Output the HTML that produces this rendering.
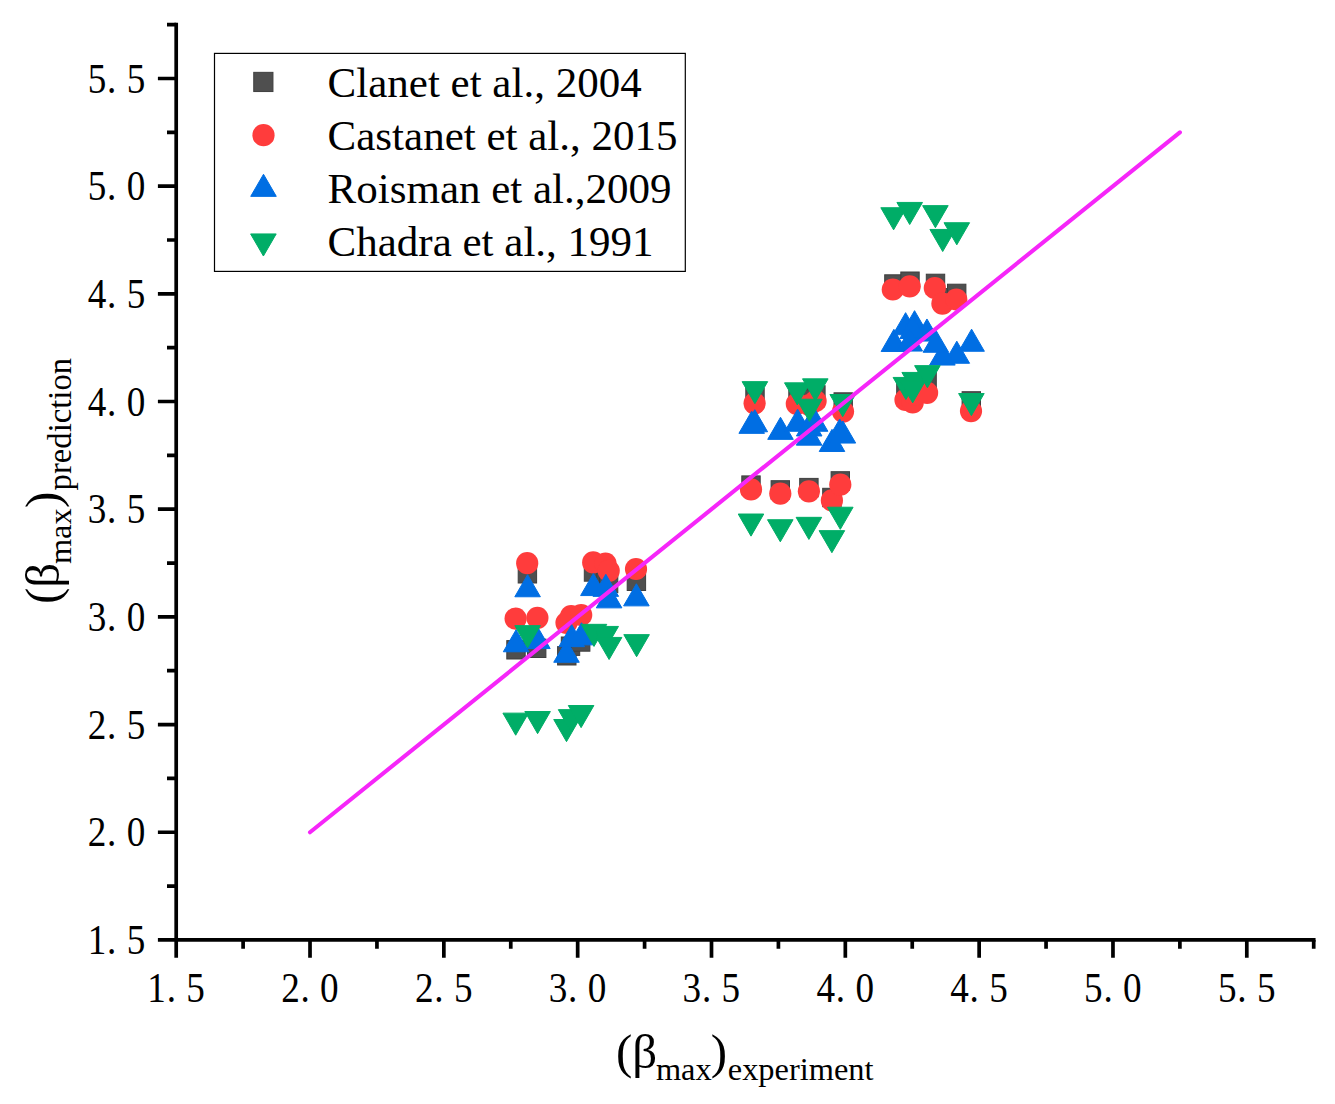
<!DOCTYPE html>
<html><head><meta charset="utf-8"><title>chart</title>
<style>
html,body{margin:0;padding:0;background:#fff;}
svg{display:block;}
text{font-family:"Liberation Serif",serif;fill:#000;}
.tk{font-size:41.3px;}
.lg{font-size:43px;}
.m{font-size:49px;}
.s{font-size:32.4px;}
.s2{font-size:32.7px;}
</style></head><body>
<svg width="1335" height="1104" viewBox="0 0 1335 1104">
<rect width="1335" height="1104" fill="#fff"/>
<g stroke="#000" stroke-width="3.7" fill="none">
<path d="M176.20 22.81V957.70"/>
<path d="M157.90 939.90H1315.56"/>
<path d="M243.11 939.90v8.9M176.20 886.06h-9.2M310.02 939.90v17.8M176.20 832.23h-18.3M376.94 939.90v8.9M176.20 778.39h-9.2M443.85 939.90v17.8M176.20 724.55h-18.3M510.76 939.90v8.9M176.20 670.71h-9.2M577.67 939.90v17.8M176.20 616.88h-18.3M644.59 939.90v8.9M176.20 563.04h-9.2M711.50 939.90v17.8M176.20 509.20h-18.3M778.41 939.90v8.9M176.20 455.36h-9.2M845.33 939.90v17.8M176.20 401.52h-18.3M912.24 939.90v8.9M176.20 347.69h-9.2M979.15 939.90v17.8M176.20 293.85h-18.3M1046.06 939.90v8.9M176.20 240.01h-9.2M1112.97 939.90v17.8M176.20 186.17h-18.3M1179.89 939.90v8.9M176.20 132.34h-9.2M1246.80 939.90v17.8M176.20 78.50h-18.3M1313.71 939.90v8.9M176.20 24.66h-9.2"/>
</g>
<g transform="translate(176.10,1002.00) scale(0.9,1)"><text class="tk" text-anchor="middle" y="0"><tspan x="-21.67">1</tspan><tspan x="-5.33">.</tspan><tspan x="21.67">5</tspan></text></g>
<g transform="translate(116.55,954.00) scale(0.9,1)"><text class="tk" text-anchor="middle" y="0"><tspan x="-21.67">1</tspan><tspan x="-5.33">.</tspan><tspan x="21.67">5</tspan></text></g>
<g transform="translate(309.92,1002.00) scale(0.9,1)"><text class="tk" text-anchor="middle" y="0"><tspan x="-21.67">2</tspan><tspan x="-5.33">.</tspan><tspan x="21.67">0</tspan></text></g>
<g transform="translate(116.55,846.33) scale(0.9,1)"><text class="tk" text-anchor="middle" y="0"><tspan x="-21.67">2</tspan><tspan x="-5.33">.</tspan><tspan x="21.67">0</tspan></text></g>
<g transform="translate(443.75,1002.00) scale(0.9,1)"><text class="tk" text-anchor="middle" y="0"><tspan x="-21.67">2</tspan><tspan x="-5.33">.</tspan><tspan x="21.67">5</tspan></text></g>
<g transform="translate(116.55,738.65) scale(0.9,1)"><text class="tk" text-anchor="middle" y="0"><tspan x="-21.67">2</tspan><tspan x="-5.33">.</tspan><tspan x="21.67">5</tspan></text></g>
<g transform="translate(577.57,1002.00) scale(0.9,1)"><text class="tk" text-anchor="middle" y="0"><tspan x="-21.67">3</tspan><tspan x="-5.33">.</tspan><tspan x="21.67">0</tspan></text></g>
<g transform="translate(116.55,630.98) scale(0.9,1)"><text class="tk" text-anchor="middle" y="0"><tspan x="-21.67">3</tspan><tspan x="-5.33">.</tspan><tspan x="21.67">0</tspan></text></g>
<g transform="translate(711.40,1002.00) scale(0.9,1)"><text class="tk" text-anchor="middle" y="0"><tspan x="-21.67">3</tspan><tspan x="-5.33">.</tspan><tspan x="21.67">5</tspan></text></g>
<g transform="translate(116.55,523.30) scale(0.9,1)"><text class="tk" text-anchor="middle" y="0"><tspan x="-21.67">3</tspan><tspan x="-5.33">.</tspan><tspan x="21.67">5</tspan></text></g>
<g transform="translate(845.23,1002.00) scale(0.9,1)"><text class="tk" text-anchor="middle" y="0"><tspan x="-21.67">4</tspan><tspan x="-5.33">.</tspan><tspan x="21.67">0</tspan></text></g>
<g transform="translate(116.55,415.62) scale(0.9,1)"><text class="tk" text-anchor="middle" y="0"><tspan x="-21.67">4</tspan><tspan x="-5.33">.</tspan><tspan x="21.67">0</tspan></text></g>
<g transform="translate(979.05,1002.00) scale(0.9,1)"><text class="tk" text-anchor="middle" y="0"><tspan x="-21.67">4</tspan><tspan x="-5.33">.</tspan><tspan x="21.67">5</tspan></text></g>
<g transform="translate(116.55,307.95) scale(0.9,1)"><text class="tk" text-anchor="middle" y="0"><tspan x="-21.67">4</tspan><tspan x="-5.33">.</tspan><tspan x="21.67">5</tspan></text></g>
<g transform="translate(1112.88,1002.00) scale(0.9,1)"><text class="tk" text-anchor="middle" y="0"><tspan x="-21.67">5</tspan><tspan x="-5.33">.</tspan><tspan x="21.67">0</tspan></text></g>
<g transform="translate(116.55,200.27) scale(0.9,1)"><text class="tk" text-anchor="middle" y="0"><tspan x="-21.67">5</tspan><tspan x="-5.33">.</tspan><tspan x="21.67">0</tspan></text></g>
<g transform="translate(1246.70,1002.00) scale(0.9,1)"><text class="tk" text-anchor="middle" y="0"><tspan x="-21.67">5</tspan><tspan x="-5.33">.</tspan><tspan x="21.67">5</tspan></text></g>
<g transform="translate(116.55,92.60) scale(0.9,1)"><text class="tk" text-anchor="middle" y="0"><tspan x="-21.67">5</tspan><tspan x="-5.33">.</tspan><tspan x="21.67">5</tspan></text></g>
<g fill="#4f4f4f" stroke="#3f3f3f" stroke-width="1"><rect x="518.20" y="564.60" width="18.4" height="18.4"/><rect x="584.30" y="562.80" width="18.4" height="18.4"/><rect x="596.80" y="564.30" width="18.4" height="18.4"/><rect x="599.40" y="574.20" width="18.4" height="18.4"/><rect x="627.20" y="572.10" width="18.4" height="18.4"/><rect x="506.80" y="640.60" width="18.4" height="18.4"/><rect x="527.50" y="639.10" width="18.4" height="18.4"/><rect x="557.60" y="646.60" width="18.4" height="18.4"/><rect x="561.30" y="637.00" width="18.4" height="18.4"/><rect x="571.50" y="632.80" width="18.4" height="18.4"/><rect x="741.80" y="475.90" width="18.4" height="18.4"/><rect x="771.10" y="480.70" width="18.4" height="18.4"/><rect x="799.70" y="478.40" width="18.4" height="18.4"/><rect x="822.70" y="488.30" width="18.4" height="18.4"/><rect x="831.10" y="471.70" width="18.4" height="18.4"/><rect x="745.80" y="388.30" width="18.4" height="18.4"/><rect x="788.80" y="389.80" width="18.4" height="18.4"/><rect x="806.70" y="385.70" width="18.4" height="18.4"/><rect x="800.20" y="389.80" width="18.4" height="18.4"/><rect x="834.00" y="392.80" width="18.4" height="18.4"/><rect x="884.70" y="274.80" width="18.4" height="18.4"/><rect x="900.80" y="272.00" width="18.4" height="18.4"/><rect x="926.30" y="274.20" width="18.4" height="18.4"/><rect x="933.50" y="288.60" width="18.4" height="18.4"/><rect x="947.50" y="284.20" width="18.4" height="18.4"/><rect x="896.70" y="380.20" width="18.4" height="18.4"/><rect x="903.50" y="382.80" width="18.4" height="18.4"/><rect x="905.50" y="375.80" width="18.4" height="18.4"/><rect x="917.90" y="372.00" width="18.4" height="18.4"/><rect x="962.10" y="391.70" width="18.4" height="18.4"/></g>
<g fill="#ff3c3c"><circle cx="527.20" cy="563.20" r="11.1"/><circle cx="593.20" cy="562.40" r="11.1"/><circle cx="605.50" cy="563.60" r="11.1"/><circle cx="608.70" cy="570.80" r="11.1"/><circle cx="636.00" cy="569.00" r="11.1"/><circle cx="515.60" cy="618.60" r="11.1"/><circle cx="537.40" cy="617.80" r="11.1"/><circle cx="566.50" cy="622.80" r="11.1"/><circle cx="571.10" cy="616.20" r="11.1"/><circle cx="581.20" cy="615.00" r="11.1"/><circle cx="751.00" cy="489.40" r="11.1"/><circle cx="780.30" cy="493.60" r="11.1"/><circle cx="808.90" cy="491.30" r="11.1"/><circle cx="831.90" cy="500.40" r="11.1"/><circle cx="840.30" cy="484.60" r="11.1"/><circle cx="754.60" cy="403.30" r="11.1"/><circle cx="796.80" cy="403.80" r="11.1"/><circle cx="815.60" cy="401.00" r="11.1"/><circle cx="809.40" cy="405.00" r="11.1"/><circle cx="843.00" cy="411.60" r="11.1"/><circle cx="892.80" cy="289.50" r="11.1"/><circle cx="909.70" cy="286.30" r="11.1"/><circle cx="934.80" cy="288.00" r="11.1"/><circle cx="942.40" cy="303.60" r="11.1"/><circle cx="956.30" cy="299.50" r="11.1"/><circle cx="905.50" cy="399.90" r="11.1"/><circle cx="912.70" cy="402.50" r="11.1"/><circle cx="914.70" cy="395.00" r="11.1"/><circle cx="927.10" cy="392.80" r="11.1"/><circle cx="971.00" cy="411.10" r="11.1"/></g>
<g fill="#006ee3" stroke="#006ee3" stroke-width="1" stroke-linejoin="round"><path d="M527.60 574.67L540.38 596.77H514.82Z"/><path d="M593.40 573.47L606.18 595.57H580.62Z"/><path d="M605.80 574.27L618.58 596.37H593.01Z"/><path d="M609.10 585.77L621.88 607.87H596.32Z"/><path d="M636.40 583.77L649.18 605.87H623.62Z"/><path d="M516.10 629.67L528.88 651.77H503.31Z"/><path d="M537.40 626.47L550.18 648.57H524.62Z"/><path d="M566.50 640.17L579.28 662.27H553.72Z"/><path d="M571.70 624.57L584.49 646.67H558.92Z"/><path d="M581.50 622.77L594.28 644.87H568.72Z"/><path d="M751.70 411.27L764.49 433.37H738.92Z"/><path d="M754.80 409.67L767.58 431.77H742.01Z"/><path d="M780.50 417.27L793.28 439.37H767.72Z"/><path d="M797.60 409.17L810.38 431.27H784.82Z"/><path d="M809.10 423.07L821.88 445.17H796.32Z"/><path d="M809.20 413.87L821.99 435.97H796.42Z"/><path d="M815.10 409.17L827.88 431.27H802.32Z"/><path d="M832.00 429.37L844.78 451.47H819.22Z"/><path d="M839.70 418.97L852.49 441.07H826.92Z"/><path d="M842.90 420.97L855.68 443.07H830.12Z"/><path d="M893.90 329.37L906.68 351.47H881.12Z"/><path d="M905.60 312.67L918.38 334.77H892.82Z"/><path d="M914.55 310.67L927.33 332.77H901.76Z"/><path d="M926.95 318.97L939.74 341.07H914.17Z"/><path d="M971.60 329.17L984.38 351.27H958.82Z"/><path d="M956.80 341.17L969.58 363.27H944.01Z"/><path d="M942.40 342.97L955.18 365.07H929.62Z"/><path d="M935.90 330.17L948.68 352.27H923.12Z"/><path d="M912.70 316.37L925.49 338.47H899.92Z"/><path d="M909.70 328.97L922.49 351.07H896.92Z"/></g>
<g fill="#00ad67" stroke="#00ad67" stroke-width="1" stroke-linejoin="round"><path d="M515.70 735.23L528.49 713.13H502.92Z"/><path d="M537.60 733.63L550.38 711.53H524.82Z"/><path d="M566.50 741.63L579.28 719.53H553.72Z"/><path d="M571.10 731.73L583.88 709.63H558.32Z"/><path d="M581.10 727.63L593.88 705.53H568.32Z"/><path d="M527.60 647.73L540.38 625.63H514.82Z"/><path d="M594.00 646.43L606.78 624.33H581.22Z"/><path d="M605.70 648.53L618.49 626.43H592.92Z"/><path d="M609.10 659.53L621.88 637.43H596.32Z"/><path d="M636.60 656.73L649.38 634.63H623.82Z"/><path d="M751.00 536.13L763.78 514.03H738.22Z"/><path d="M780.30 541.83L793.08 519.73H767.51Z"/><path d="M808.90 539.43L821.68 517.33H796.12Z"/><path d="M831.90 552.73L844.68 530.63H819.12Z"/><path d="M840.30 529.33L853.08 507.23H827.51Z"/><path d="M754.90 403.73L767.68 381.63H742.12Z"/><path d="M797.30 404.93L810.08 382.83H784.51Z"/><path d="M815.30 400.93L828.08 378.83H802.51Z"/><path d="M809.40 421.33L822.18 399.23H796.62Z"/><path d="M842.70 416.63L855.49 394.53H829.92Z"/><path d="M893.60 229.83L906.38 207.73H880.82Z"/><path d="M909.70 224.53L922.49 202.43H896.92Z"/><path d="M935.40 227.73L948.18 205.63H922.62Z"/><path d="M942.70 251.53L955.49 229.43H929.92Z"/><path d="M956.80 244.83L969.58 222.73H944.01Z"/><path d="M905.90 399.53L918.68 377.43H893.12Z"/><path d="M914.70 394.53L927.49 372.43H901.92Z"/><path d="M912.70 402.83L925.49 380.73H899.92Z"/><path d="M927.40 387.73L940.18 365.63H914.62Z"/><path d="M971.40 415.63L984.18 393.53H958.62Z"/></g>
<path d="M310.02 832.23L1179.89 132.34" stroke="#f626f9" stroke-width="4.1" stroke-linecap="round" fill="none"/>
<rect x="214.5" y="53.4" width="470.8" height="218" fill="#fff" stroke="#000" stroke-width="1.2"/>
<g fill="#4f4f4f" stroke="#3f3f3f" stroke-width="1"><rect x="253.75" y="72.35" width="19.2" height="19.2"/></g>
<g fill="#ff3c3c"><circle cx="263.50" cy="135.20" r="11.1"/></g>
<g fill="#006ee3" stroke="#006ee3" stroke-width="1" stroke-linejoin="round"><path d="M263.50 174.27L276.29 196.37H250.72Z"/></g>
<g fill="#00ad67" stroke="#00ad67" stroke-width="1" stroke-linejoin="round"><path d="M263.40 256.03L276.19 233.93H250.61Z"/></g>
<text class="lg" x="327.6" y="96.9">Clanet et al., 2004</text>
<text class="lg" x="327.6" y="150.3">Castanet et al., 2015</text>
<text class="lg" x="327.6" y="203.3">Roisman et al.,2009</text>
<text class="lg" x="327.6" y="255.7">Chadra et al., 1991</text>
<text><tspan class="m" x="615.9" y="1068.2">(β</tspan><tspan class="s" x="655.9" y="1079.7">max</tspan><tspan class="m" x="710.8" y="1068.2">)</tspan><tspan class="s" x="727.8" y="1079.7">experiment</tspan></text>
<g transform="translate(59.3,604.0) rotate(-90)"><text><tspan class="m" x="0" y="0">(β</tspan><tspan class="s" x="39.9" y="11.6">max</tspan><tspan class="m" x="95.9" y="0">)</tspan><tspan class="s2" x="113.6" y="11.6">prediction</tspan></text></g>
</svg></body></html>
